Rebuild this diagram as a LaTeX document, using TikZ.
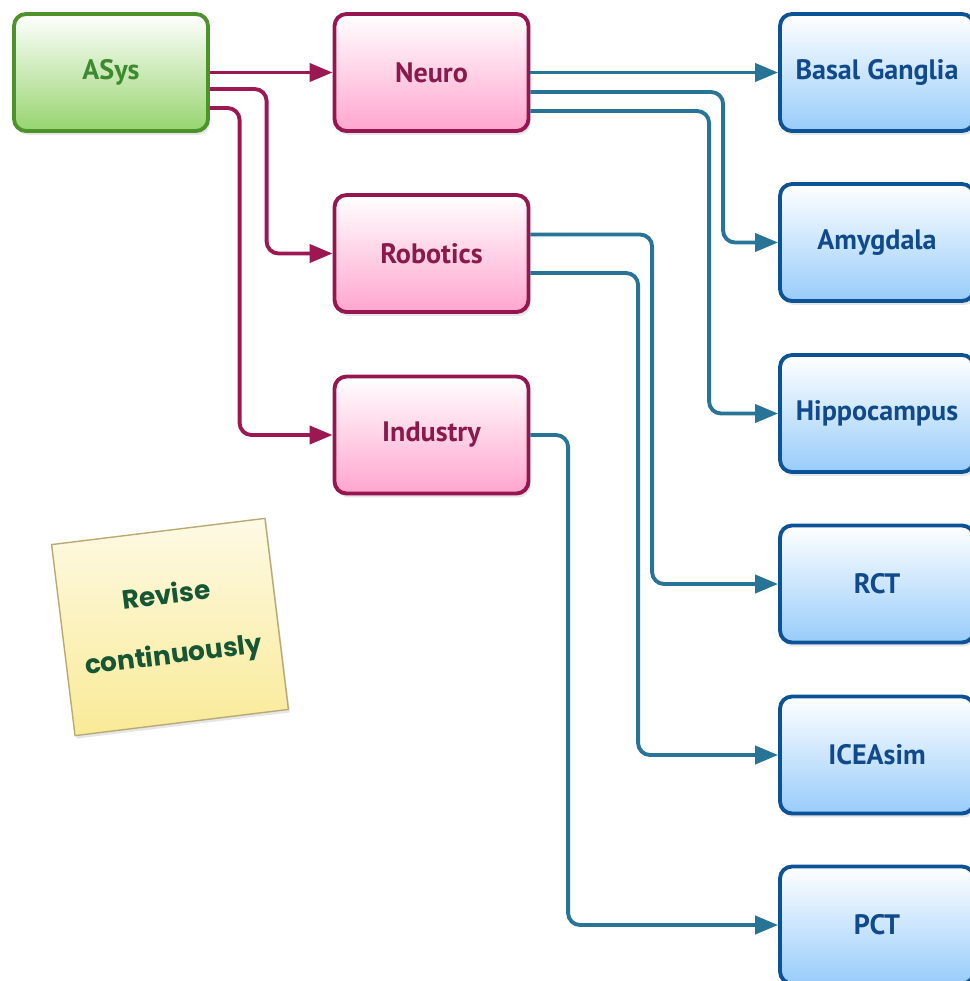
\documentclass[tikz,border=0pt]{standalone}
\usepackage{fontspec}
\setmainfont{PT Sans}
\newfontfamily\notefont{Poppins}
\usepackage{tikz}
\usetikzlibrary{positioning,calc,arrows.meta,shadows}
\definecolor{asysline}{RGB}{78,146,44}
\definecolor{asystext}{RGB}{62,138,48}
\definecolor{asysfill}{RGB}{150,212,110}
\definecolor{areaLine}{RGB}{150,22,82}
\definecolor{areatext}{RGB}{138,26,76}
\definecolor{areafill}{RGB}{255,165,206}
\definecolor{projline}{RGB}{12,82,150}
\definecolor{projtext}{RGB}{16,74,140}
\definecolor{projfill}{RGB}{152,204,250}
\definecolor{bluewire}{RGB}{40,116,150}
\definecolor{redwire}{RGB}{155,24,82}
\definecolor{notefill}{RGB}{249,234,150}
\definecolor{noteline}{RGB}{185,170,115}
\definecolor{notetext}{RGB}{22,86,52}
\tikzset{basic/.style={draw,rounded corners=2.4mm,line width=2.2pt,text badly centered,
    minimum width=3.88cm,minimum height=2.34cm,
    font=\fontsize{16}{19}\selectfont\bfseries,
    drop shadow={shadow xshift=0.4mm,shadow yshift=-0.8mm,opacity=0.2}}}

\begin{document}
\begin{tikzpicture}[
        x=0.02cm, y=-0.02cm,
        >={Triangle[length=4.6mm,width=3.6mm]},
        asys/.style={
            basic,
            draw=asysline,
            text=asystext,
            top color=white,
            bottom color=asysfill,
        },
        area/.style={
            basic,
            draw=areaLine,
            text=areatext,
            top color=white,
            bottom color=areafill,
        },
        project/.style={
            basic,
            draw=projline,
            text=projtext,
            top color=white,
            bottom color=projfill,
        },
        note/.style={
            draw=noteline,
            line width=0.8pt,
            top color=notefill!25,
            bottom color=notefill,
            minimum width=4.3cm,
            minimum height=3.85cm,
            align=center,
            text=notetext,
            font=\notefont\fontsize{15}{34}\selectfont\bfseries,
            drop shadow={shadow xshift=0.3mm,shadow yshift=-0.6mm,opacity=0.2},
        },
        RedWire/.style={
            rounded corners=2.4mm,
            line width=2.2pt,
            draw=redwire,
            ->,
        },
        BlueWire/.style={
            rounded corners=2.4mm,
            line width=2.2pt,
            draw=bluewire,
            ->,
        },
    ]
    \useasboundingbox (0,0) rectangle (970,981);

    % Root box
    \node [asys] (asys) at (111,72.5) {ASys};

    % Research areas
    \node [area] (neuro) at (431.5,72.5) {Neuro};
    \node [area] (robotics) at (431.5,253.5) {Robotics};
    \node [area] (industry) at (431.5,435) {Industry};

    % Projects
    \node [project] (basal) at (877,72.5) {Basal Ganglia};
    \node [project] (amygdala) at (877,242.5) {Amygdala};
    \node [project] (hippo) at (877,413.5) {Hippocampus};
    \node [project] (rct) at (877,584) {RCT};
    \node [project] (iceasim) at (877,755) {ICEAsim};
    \node [project] (pct) at (877,925) {PCT};

    % Sticky note
    \node [note, rotate=7] (revise) at (170,627) {Revise\\continuously};

    % ASys to areas
    \draw [RedWire] (asys) -- (neuro);
    \draw [RedWire] ($(asys.east)+(0,16.5)$) -| ($(robotics.west)+(-66,0)$) -- (robotics.west);
    \draw [RedWire] ($(asys.east)+(0,35.5)$) -| ($(industry.west)+(-93,0)$) -- (industry.west);

    % Neuro to projects
    \draw [BlueWire] (neuro) -- (basal);
    \draw [BlueWire] ($(neuro.east)+(0,19.5)$) -| ($(amygdala.west)+(-55,0)$) -- (amygdala.west);
    \draw [BlueWire] ($(neuro.east)+(0,38.5)$) -| ($(hippo.west)+(-69,0)$) -- (hippo.west);

    % Robotics to projects
    \draw [BlueWire] ($(robotics.east)+(0,-19)$) -| ($(rct.west)+(-126,0)$) -- (rct.west);
    \draw [BlueWire] ($(robotics.east)+(0,19.5)$) -| ($(iceasim.west)+(-140,0)$) -- (iceasim.west);

    % Industry to projects
    \draw [BlueWire] (industry) -| ($(pct.west)+(-210,0)$) -- (pct.west);

\end{tikzpicture}
\end{document}
